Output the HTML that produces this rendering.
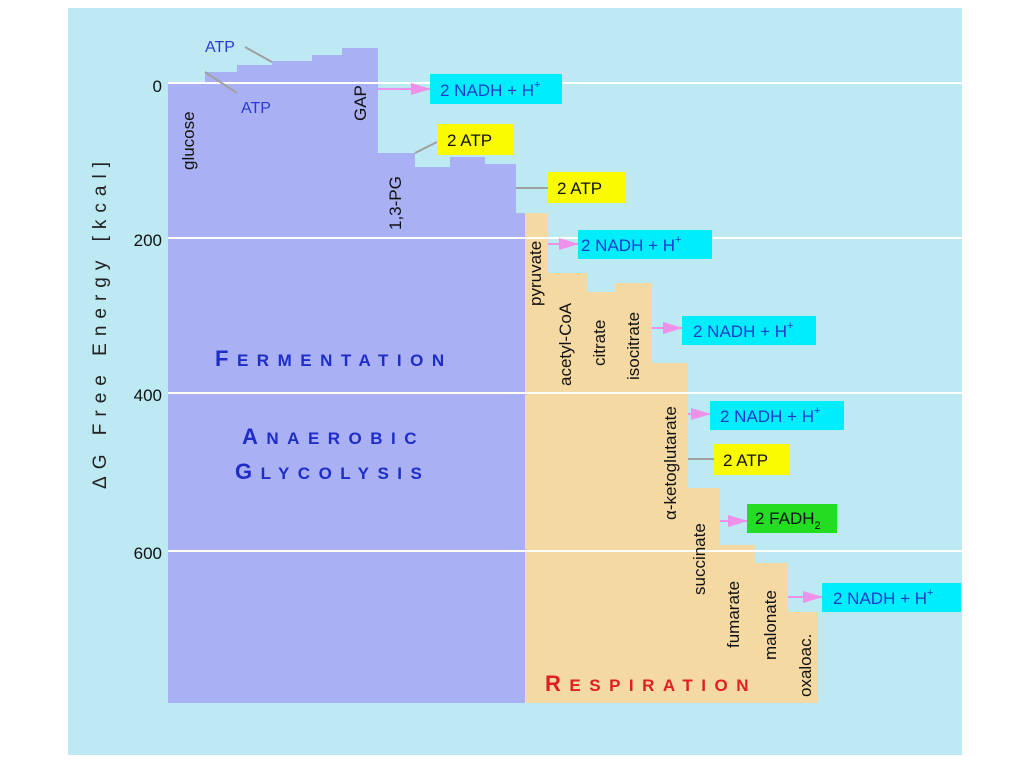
<!DOCTYPE html>
<html><head><meta charset="utf-8"><style>
html,body{margin:0;padding:0;background:#fff;}
svg{display:block;font-family:"Liberation Sans",sans-serif;}
</style></head><body>
<svg width="1024" height="768" viewBox="0 0 1024 768" xmlns="http://www.w3.org/2000/svg">
<defs>
<marker id="ah" markerWidth="20" markerHeight="14" refX="19" refY="7" orient="auto" markerUnits="userSpaceOnUse">
<path d="M0,1 L20,7 L0,13 Z" fill="#f090e8"/></marker>
</defs>
<rect x="68" y="8" width="894" height="747" fill="#bde9f3"/>
<polygon fill="#aab0f4" points="168,83 205,83 205,72 237,72 237,65 272,65 272,61 312,61 312,55 342,55 342,48 378,48 378,153 415,153 415,167 450,167 450,157 485,157 485,164 516,164 516,213 525,213 525,703 168,703"/>
<polygon fill="#f5d9a3" points="525,213 548,213 548,273 587,273 587,292 615,292 615,283 652,283 652,363 688,363 688,488 720,488 720,545 755,545 755,563 788,563 788,612 818,612 818,703 525,703"/>
<g stroke="#ffffff" stroke-width="2">
<line x1="168" y1="83" x2="962" y2="83"/>
<line x1="168" y1="238" x2="962" y2="238"/>
<line x1="168" y1="393" x2="962" y2="393"/>
<line x1="168" y1="551" x2="962" y2="551"/>
</g>
<g font-size="17" fill="#111" text-anchor="end">
<text x="162" y="92">0</text>
<text x="162" y="246">200</text>
<text x="162" y="401">400</text>
<text x="162" y="559">600</text>
</g>
<text transform="translate(106,322) rotate(-90)" text-anchor="middle" font-size="19" letter-spacing="7" fill="#222">ΔG Free Energy [kcal]</text>
<g stroke="#a0a0a0" stroke-width="2" fill="none">
<line x1="245" y1="47" x2="272" y2="62"/>
<line x1="205" y1="72" x2="237" y2="93"/>
<line x1="415" y1="153" x2="437" y2="142"/>
<line x1="516" y1="188" x2="548" y2="188"/>
<line x1="688" y1="459" x2="714" y2="459"/>
</g>
<g stroke="#f090e8" stroke-width="2" marker-end="url(#ah)">
<line x1="378" y1="89" x2="430" y2="89"/>
<line x1="548" y1="244" x2="578" y2="244"/>
<line x1="652" y1="328" x2="682" y2="328"/>
<line x1="688" y1="414" x2="710" y2="414"/>
<line x1="720" y1="521" x2="747" y2="521"/>
<line x1="788" y1="597" x2="822" y2="597"/>
</g>
<g fill="#1b3ad0" font-size="17">
<rect x="430" y="74" width="132" height="30" fill="#00eefc"/>
<text x="440" y="96">2 NADH + H<tspan font-size="11" dy="-8">+</tspan></text>
<rect x="578" y="230" width="134" height="29" fill="#00eefc"/>
<text x="581" y="251">2 NADH + H<tspan font-size="11" dy="-8">+</tspan></text>
<rect x="682" y="316" width="134" height="29" fill="#00eefc"/>
<text x="693" y="337">2 NADH + H<tspan font-size="11" dy="-8">+</tspan></text>
<rect x="710" y="401" width="134" height="29" fill="#00eefc"/>
<text x="720" y="422">2 NADH + H<tspan font-size="11" dy="-8">+</tspan></text>
<rect x="822" y="583" width="139" height="29" fill="#00eefc"/>
<text x="833" y="604">2 NADH + H<tspan font-size="11" dy="-8">+</tspan></text>
</g>
<g fill="#111" font-size="17">
<rect x="437" y="124" width="77" height="31" fill="#fbfb00"/>
<text x="447" y="146">2 ATP</text>
<rect x="548" y="172" width="78" height="31" fill="#fbfb00"/>
<text x="557" y="194">2 ATP</text>
<rect x="714" y="444" width="76" height="31" fill="#fbfb00"/>
<text x="723" y="466">2 ATP</text>
<rect x="747" y="504" width="90" height="29" fill="#22dd22"/>
<text x="755" y="524">2 FADH<tspan font-size="11" dy="5">2</tspan></text>
</g>
<g fill="#2a3ad8" font-size="16">
<text x="205" y="52">ATP</text>
<text x="241" y="113">ATP</text>
</g>
<g fill="#111" font-size="17">
<text transform="translate(194,170) rotate(-90)">glucose</text>
<text transform="translate(366,121) rotate(-90)">GAP</text>
<text transform="translate(401,230) rotate(-90)">1,3-PG</text>
<text transform="translate(541,306) rotate(-90)">pyruvate</text>
<text transform="translate(571,386) rotate(-90)">acetyl-CoA</text>
<text transform="translate(605,366) rotate(-90)">citrate</text>
<text transform="translate(639,380) rotate(-90)">isocitrate</text>
<text transform="translate(676,520) rotate(-90)">α-ketoglutarate</text>
<text transform="translate(705,595) rotate(-90)">succinate</text>
<text transform="translate(739,648) rotate(-90)">fumarate</text>
<text transform="translate(776,660) rotate(-90)">malonate</text>
<text transform="translate(811,697) rotate(-90)">oxaloac.</text>
</g>
<g font-weight="bold" fill="#1e2cc8" letter-spacing="8.5">
<text x="215" y="366" font-size="17"><tspan font-size="22">F</tspan>ERMENTATION</text>
<text x="242" y="444" font-size="17"><tspan font-size="22">A</tspan>NAEROBIC</text>
<text x="235" y="479" font-size="17"><tspan font-size="22">G</tspan>LYCOLYSIS</text>
</g>
<text x="545" y="691" font-size="17" font-weight="bold" fill="#e02020" letter-spacing="8.5"><tspan font-size="22">R</tspan>ESPIRATION</text>
</svg>
</body></html>
